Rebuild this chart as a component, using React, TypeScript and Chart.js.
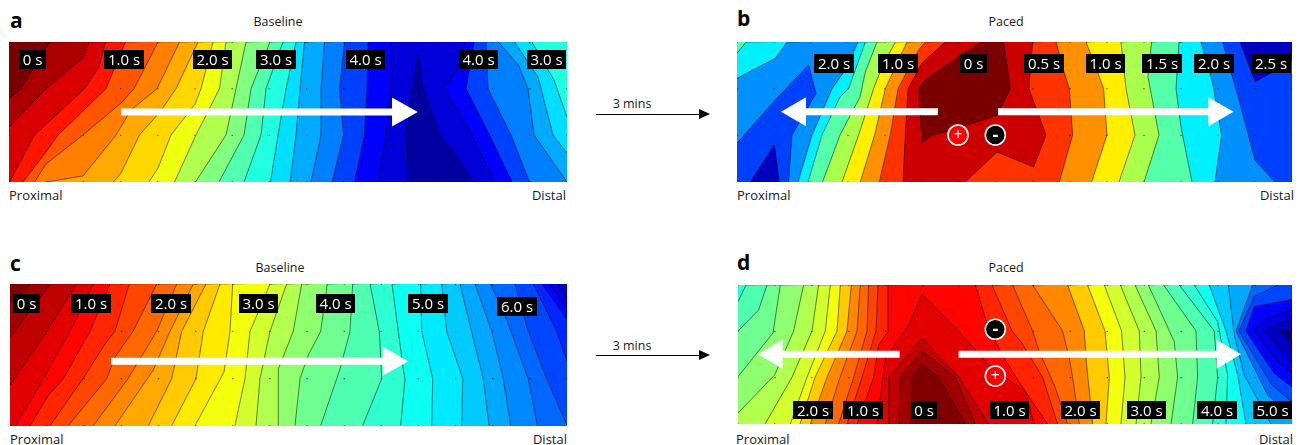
import React, { useEffect, useRef } from "react";
import { Chart, registerables } from "chart.js";

Chart.register(...registerables);

// ---------- colour levels ----------
const aPalette = ["#7a0000","#aa0000","#d80000","#ff1500","#ff5500","#ff8000","#ffaa00","#ffd800","#eeff10","#b0ff50","#80ff80","#50ffb0","#20ffe0","#00dfff","#00aaff","#0080ff","#0040ff","#0000ff","#0000d8","#0000a0"];
const bPalette = ["#7a0000","#cc0000","#ff3300","#ff9000","#ffee00","#aaff4d","#55ffaa","#00f0ff","#0090ff","#0040ff","#0000c0"];
const jet = (i: number) => {
  const t = 1 - i / 31;
  const c = (v: number) => Math.round(255 * Math.max(0, Math.min(1, v)));
  return `rgb(${c(1.5 - Math.abs(4 * t - 3))},${c(1.5 - Math.abs(4 * t - 2))},${c(1.5 - Math.abs(4 * t - 1))})`;
};
const cdPalette = Array.from({ length: 32 }, (_, i) => jet(i));

// ---------- panel a: contours, [x,y,x,y...] along the tissue ----------
const aBase = 0;
const aLevels = [1,2,3,4,5,6,7,8,9,10,11,12,13,14,15,16,17,18,19,17,16,15,14,13,12];
const aClosed = [18];
const aLines = [
  [0,56.7,12,46.7,40.5,0],
  [0,85,37,46.7,74,16,80,0],
  [0.5,140,25.5,93,75.5,46.7,90,25,96.5,0],
  [14,140,37,110,49,93,97,46.7,116.5,0],
  [25.5,140,37,122,74,93,112,61,125,46.7,149,0],
  [37,140,74,134,107,93,122,68,148,46.7,170.5,0],
  [104.5,140,112,131,130.5,93,151,70,167,46.7,189,0],
  [140,140,149,126,162,93,186,62,192,46.7,204,0],
  [165.5,140,187,93,210.5,46.7,217,0],
  [186.5,140,217,93,227,46.7,237,0],
  [210,140,235,93,242,46.7,261,0],
  [235,140,252,93,257,46.7,274,0],
  [261.5,140,269,93,277,46.7,287,0],
  [281,140,287,93,291,46.7,295.5,0],
  [302,140,312,93,312,46.7,315.5,0],
  [323,140,334.5,93,330.5,46.7,335.5,0],
  [345.5,140,355.5,93,358,46.7,359,0],
  [369,140,377,93,382,46.7,382,0],
  [399,146,399,140,396.5,93,403,51,409,13,414,46.7,430.5,93,445.5,111,464,140,464,146],
  [485.5,140,462,91,435.5,46.7,448,28,456,0],
  [503,140,480.5,93,457,46.7,465,0],
  [520.5,140,502,93,479,46.7,477,0],
  [558,140,525,93,519,46.7,510,24,489.5,0],
  [558,111,544,93,529,35,505.5,0],
  [558,75,545,38,523,0],
];

// ---------- panel b ----------
const bBase = 6;
const bLevels = [7,8,9,10,7,6,5,4,3,2,1,0,2,3,4,5,6,7,8,9,10];
const bClosed = [2,3,11,20];
const bLines = [
  [0,11.3,9,0],
  [0,36.3,38.3,16.3,50,0],
  [-6,101.3,0,101.3,36.6,59.7,71.6,23,79,51.3,55,93,51.6,140,51.6,146,-6,146],
  [13.3,146,13.3,140,37.3,103,42.3,140,42.3,146],
  [61,140,75,93,95,46.7,108.3,28,121,0],
  [71,140,85,93,103,55,111.6,46.7,128.3,0],
  [85.6,140,103,93,123,55,128.3,30,140,0],
  [105,140,121.6,93,136.6,46.7,145,25,158.3,0],
  [123.3,140,137.6,93,148.3,46.7,170,0],
  [142.3,140,153.3,93,161,46.7,181.6,8,188.3,0],
  [166,140,168.3,93,171,46.7,185,21,208.3,0],
  [185,101.3,181.6,46.7,188,38,221.6,14.6,245,0,245,-6,266.6,-6,266.6,0,273.3,46.7,260,73,221.6,86,196.6,93],
  [228.3,140,260,110,296.6,125,309,93,292,46.7,295.6,0],
  [322.3,140,335.6,93,332.3,46.7,327,30,319,0],
  [354.6,140,370,93,366.6,46.7,360.6,30,349,0],
  [382,140,398,93,389,46.7,384,0],
  [407,140,422,93,411,35,414.6,0],
  [455,140,444,85,439,46.7,442,0],
  [478,140,484.6,93,475.6,41,464,0],
  [538,140,518,118,502,58,485.6,0],
  [503,-6,503,0,518,39.7,534,31,555,20,562,20,562,-6],
];

// ---------- panel c ----------
const cBase = 0;
const cLevels = [1,2,3,4,5,6,7,8,9,10,11,12,13,14,15,16,17,18,19,20,21,22,23,24,25,26,27,28,29];
const cClosed: number[] = [];
const cLines = [
  [0,19.3,20.7,0],
  [0,53,40.7,0],
  [0,101.3,37,47.3,66,0],
  [6,141.7,33.3,94.7,60,47.3,83.3,0],
  [20,141.7,38.3,111.3,53.3,94.7,80,47.3,100,0],
  [40,141.7,73,94.7,95,60,105,47.3,119.3,0],
  [58.3,141.7,96.7,94.7,105,73,123,47.3,146.7,0],
  [83.3,141.7,118,94.7,146.7,47.3,166.7,0],
  [105,141.7,143.3,86,160,47.3,183.3,0],
  [138.3,141.7,161.7,94.7,171.7,47.3,196,0],
  [161.7,141.7,186,94.7,193.3,47.3,210,0],
  [185,141.7,214,88,220,47.3,222.7,0],
  [225,141.7,235,94.7,240,47.3,260,0],
  [246,141.7,250,94.7,260,47.3,276.7,0],
  [268.3,141.7,268.3,85,283.3,47.3,291.7,0],
  [285,141.7,290,94.7,298.3,71,310.7,47.3,317.3,0],
  [310.7,141.7,330,85,340,47.3,342.7,0],
  [352.7,141.7,371.7,94.7,369.3,47.3,360,0],
  [390.7,141.7,395,94.7,393.3,85,382,0],
  [421.7,141.7,422.7,94.7,411.7,47.3,410.7,0],
  [451.7,141.7,452.7,94.7,436.7,47.3,431.7,0],
  [479,141.7,473.3,94.7,463.3,54.7,450,0],
  [500.7,141.7,493.3,94.7,481.7,47.3,465,0],
  [527.3,141.7,518.3,94.7,496.7,36,480.7,0],
  [557.3,141.7,536.7,94.7,518.3,47.3,505,0],
  [557.3,78,546.7,47.3,523.3,0],
  [557.3,36,532.3,0],
  [557.3,24.7,540,0],
  [557.3,14.7,548.3,0],
];

// ---------- panel d ----------
const dBase = 18;
const dLevels = [17,16,15,14,13,12,10,8,7,6,5,4,3,2,1,0,5,6,7,8,10,12,13,14,15,16,17,18,19,21,22,24,25,27,28,29,31];
const dClosed = [12,13,14,15,33,34,35,36];
const dLines = [
  [0,16.7,8,0],
  [0,46,20.6,25,29,0],
  [0,91.7,35,48,42.3,0],
  [0,128,36.6,90,55.6,46,65.6,0],
  [27,139,54,92.3,74,46,80.6,0],
  [52.3,139,69,92.3,87.3,46,92.3,0],
  [62,139,77,92.3,99,46,102.3,0],
  [72.3,139,89,92.3,109,46,113.3,0],
  [87.3,139,102,92.3,119,46,122.3,0],
  [100.6,139,115.6,92.3,129,46,130.6,0],
  [109,139,124,92.3,138,46,140,0],
  [119,139,135.6,92.3,140.6,60,150.6,46,150,0],
  [139,145,139,139,147.3,73.3,170.6,40,184,9.3,220.6,46,250.6,80,287.3,106.7,296.3,139,296.3,145],
  [150.7,145,150.7,92.3,184,53.3,220.6,91.7,250.6,139,250.6,145],
  [160.6,145,162.3,92.3,184,66,217.3,92.3,237.3,139,237.3,145],
  [173.3,145,173.3,92.3,184,80,200.6,92.3,227.3,139,227.3,145],
  [309.6,139,283,100,266.3,73.3,250.6,43.3,237.3,0],
  [319.6,139,304.6,92.3,283,56.7,274,46,254,0],
  [329.6,139,316.3,100,301.3,66.7,294.6,46,274.6,0],
  [341.3,139,334.6,92.3,331.3,73.3,324.6,46,294.6,0],
  [354.6,139,348,73.3,346.3,46,329.6,0],
  [368,139,371.3,92.3,367,46,349.6,0],
  [383,139,387,92.3,383.6,46,366.3,0],
  [398,139,403,92.3,401.3,46,382.3,0],
  [413,139,421.3,92.3,418,46,397,0],
  [433,139,439.6,92.3,436.3,56.7,410.3,0],
  [454.6,139,459.6,92.3,458,46,425.6,0],
  [474.6,139,479.6,92.3,476.3,46,441.3,0],
  [488,139,489.6,90,479.6,36.7,456.3,0],
  [508,139,499.6,90,488,46,471.3,0],
  [533,139,506.3,90,496.3,50,490.3,0],
  [554,133,529.6,110,498,46,514.6,0],
  [554,116.7,534,100,501,46,516,11.7,539.6,0],
  [560,106.7,536,88,508,46,516.3,21.7,560,13.3],
  [560,93,539.6,76.7,516.3,46,526.3,34,560,23],
  [560,83,526.3,46,560,30],
  [560,66.7,542.3,46,560,43],
];

// ---------- electrode grid ----------
const gridColumns = [0,1,2,3,4,5,6,7,8,9,10,11,12,13,14,15];
const gridRows = [0,1,2,3];

// ---------- arrows: tail, head base, tip, centre line ----------
const aArrows = [[112,383,408.8,70]];
const bArrows = [[201,69,44,69.7],[261,471.3,496.6,69.7]];
const cArrows = [[101,372.7,398.3,77.3]];
const dArrows = [[161.6,44.6,20,69.3],[220.6,478.6,503,69.3]];

// ---------- stimulation electrodes ----------
const bPlus = [221, 93];
const bMinus = [258.3, 93];
const dPlus = [257.3, 91];
const dMinus = [257.3, 44.3];

type Panel = {
  left: number; top: number; w: number; h: number;
  palette: string[]; base: number; levels: number[]; closed: number[]; lines: number[][];
  arrows: number[][]; plus?: number[]; minus?: number[];
};

const panels: Panel[] = [
  { left: 9, top: 42, w: 558, h: 140, palette: aPalette, base: aBase, levels: aLevels, closed: aClosed, lines: aLines, arrows: aArrows },
  { left: 737, top: 42, w: 555, h: 140, palette: bPalette, base: bBase, levels: bLevels, closed: bClosed, lines: bLines, arrows: bArrows, plus: bPlus, minus: bMinus },
  { left: 10, top: 284, w: 557, h: 142, palette: cdPalette, base: cBase, levels: cLevels, closed: cClosed, lines: cLines, arrows: cArrows },
  { left: 738, top: 285, w: 554, h: 139, palette: cdPalette, base: dBase, levels: dLevels, closed: dClosed, lines: dLines, arrows: dArrows, plus: dPlus, minus: dMinus },
];

// ---------- text ----------
const FONT = '"Open Sans", sans-serif';
const timeLabels: [string, number, number, number, number][] = [
  ["0 s",19,50,27,19],["1.0 s",104,50,40,19],["2.0 s",193,50,39,19],["3.0 s",256,50,40,19],["4.0 s",346,50,39,19],["4.0 s",459,50,39,19],["3.0 s",527,50,39,19],
  ["2.0 s",814,54,40,19],["1.0 s",878,54,40,19],["0 s",960,54,27,19],["0.5 s",1024,54,40,19],["1.0 s",1086,54,39,19],["1.5 s",1142,54,40,19],["2.0 s",1194,54,40,19],["2.5 s",1251,54,40,19],
  ["0 s",13,294,27,19],["1.0 s",71,294,40,19],["2.0 s",151,294,40,19],["3.0 s",239,294,39,19],["4.0 s",316,294,39,19],["5.0 s",408,294,40,19],["6.0 s",497,297,40,19],
  ["2.0 s",793,401,40,18],["1.0 s",843,401,40,18],["0 s",911,401,26,18],["1.0 s",990,401,39,18],["2.0 s",1061,401,39,18],["3.0 s",1127,401,39,18],["4.0 s",1197,401,40,18],["5.0 s",1253,401,39,18],
];
const panelLetters: [string, number, number][] = [["a",10,20],["b",737,18],["c",10,263],["d",737,262]];
const titles: [string, number, number][] = [["Baseline",278,22],["Paced",1006,22],["Baseline",280,268],["Paced",1006,268]];
const leftNames: [string, number, number][] = [["Proximal",9,195],["Proximal",737,195],["Proximal",10,439],["Proximal",736,439]];
const rightNames: [string, number, number][] = [["Distal",566,195],["Distal",1294,195],["Distal",567,439],["Distal",1293,439]];
const interval: [string, number, number][] = [["3 mins",632,104],["3 mins",632,346]];
const intervalArrowY = [114, 355];

function outline(line: number[], w: number, h: number, closed: boolean) {
  const pts: { x: number; y: number }[] = [];
  for (let i = 0; i < line.length; i += 2) pts.push({ x: line[i], y: line[i + 1] });
  if (closed) return pts;
  const s = pts[0];
  pts.push({ x: w + 10, y: -10 });
  if (s.x >= w - 5) {
    pts.push({ x: w + 10, y: s.y });
  } else if (s.x <= 1 && s.y < h - 1) {
    pts.push({ x: w + 10, y: h + 10 }, { x: -10, y: h + 10 }, { x: -10, y: s.y });
  } else {
    pts.push({ x: w + 10, y: h + 10 }, { x: s.x, y: h + 10 });
  }
  return pts;
}

function arrowShape(a: number[]) {
  const [tail, base, tip, y] = a;
  const sh = 3.5, hh = 14.5;
  return [
    { x: tail, y: y - sh }, { x: base, y: y - sh }, { x: base, y: y - hh }, { x: tip, y },
    { x: base, y: y + hh }, { x: base, y: y + sh }, { x: tail, y: y + sh },
  ];
}

function ContourPanel({ p }: { p: Panel }) {
  const ref = useRef<HTMLCanvasElement>(null);
  useEffect(() => {
    if (!ref.current) return;
    const stroke = "rgba(0,0,0,0.72)";
    const polys: any[] = [
      {
        data: [{ x: -10, y: -10 }, { x: p.w + 10, y: -10 }, { x: p.w + 10, y: p.h + 10 }, { x: -10, y: p.h + 10 }],
        backgroundColor: p.palette[p.base], borderColor: "transparent", borderWidth: 0, fill: "shape", showLine: true, pointRadius: 0,
      },
      ...p.lines.map((line, i) => ({
        data: outline(line, p.w, p.h, p.closed.includes(i)),
        backgroundColor: p.palette[p.levels[i]], borderColor: stroke, borderWidth: 0.7, fill: "shape", showLine: true, pointRadius: 0,
      })),
    ];
    const dots: { x: number; y: number }[] = [];
    for (const c of gridColumns) for (const r of gridRows) dots.push({ x: (c * p.w) / 15, y: (r * p.h) / 3 });
    polys.push({ data: dots, showLine: false, fill: false, pointRadius: 0.7, pointBorderWidth: 0, pointBackgroundColor: "rgba(0,0,0,0.75)" });
    for (const a of p.arrows) {
      polys.push({ data: arrowShape(a), backgroundColor: "#ffffff", borderColor: "#ffffff", borderWidth: 0, fill: "shape", showLine: true, pointRadius: 0 });
    }
    if (p.plus) polys.push({ data: [{ x: p.plus[0], y: p.plus[1] }], showLine: false, fill: false, pointRadius: 10, pointBackgroundColor: "#ff0000", pointBorderColor: "#ffffff", pointBorderWidth: 1.6 });
    if (p.minus) polys.push({ data: [{ x: p.minus[0], y: p.minus[1] }], showLine: false, fill: false, pointRadius: 10, pointBackgroundColor: "#000000", pointBorderColor: "#ffffff", pointBorderWidth: 1.6 });

    const chart = new Chart(ref.current, {
      type: "scatter",
      data: { datasets: polys.reverse() },
      options: {
        responsive: false,
        animation: false,
        events: [],
        layout: { padding: 0, autoPadding: false },
        elements: { line: { tension: 0 } },
        plugins: { legend: { display: false }, tooltip: { enabled: false } },
        scales: {
          x: { type: "linear", display: false, min: 0, max: p.w },
          y: { type: "linear", display: false, min: 0, max: p.h, reverse: true },
        },
      },
    } as any);
    return () => chart.destroy();
  }, [p]);
  return <canvas ref={ref} width={p.w} height={p.h} style={{ position: "absolute", left: p.left, top: p.top, width: p.w, height: p.h }} />;
}

const textBase: React.CSSProperties = { position: "absolute", whiteSpace: "nowrap", lineHeight: 1, fontFamily: FONT, color: "#1a1a1a" };

export default function App() {
  return (
    <div style={{ position: "absolute", left: 0, top: 0, width: 1304, height: 445, overflow: "hidden", background: "#fff" }}>
      {panels.map((p, i) => <ContourPanel key={i} p={p} />)}
      {timeLabels.map(([t, x, y, w, h], i) => (
        <div key={i} style={{ ...textBase, left: x, top: y, width: w, height: h, lineHeight: `${h}px`, background: "#000", color: "#fff", fontSize: 15, textAlign: "center" }}>{t}</div>
      ))}
      {panelLetters.map(([t, x, y], i) => (
        <div key={i} style={{ ...textBase, left: x, top: y, transform: "translateY(-50%)", fontSize: 21, fontWeight: 700, color: "#000" }}>{t}</div>
      ))}
      {titles.map(([t, x, y], i) => (
        <div key={i} style={{ ...textBase, left: x, top: y, transform: "translate(-50%,-50%)", fontSize: 12.5 }}>{t}</div>
      ))}
      {leftNames.map(([t, x, y], i) => (
        <div key={i} style={{ ...textBase, left: x, top: y, transform: "translateY(-50%)", fontSize: 13 }}>{t}</div>
      ))}
      {rightNames.map(([t, x, y], i) => (
        <div key={i} style={{ ...textBase, right: 1304 - x, top: y, transform: "translateY(-50%)", fontSize: 13 }}>{t}</div>
      ))}
      {interval.map(([t, x, y], i) => (
        <div key={i} style={{ ...textBase, left: x, top: y, transform: "translate(-50%,-50%)", fontSize: 12.5 }}>{t}</div>
      ))}
      {intervalArrowY.map((y, i) => (
        <React.Fragment key={i}>
          <div style={{ position: "absolute", left: 596, top: y - 0.5, width: 106, height: 1, background: "#000" }} />
          <div style={{ position: "absolute", left: 699, top: y - 5, width: 0, height: 0, borderTop: "5px solid transparent", borderBottom: "5px solid transparent", borderLeft: "11px solid #000" }} />
        </React.Fragment>
      ))}
      {panels.map((p, i) => (
        <React.Fragment key={i}>
          {p.plus && <div style={{ ...textBase, left: p.left + p.plus[0], top: p.top + p.plus[1] - 1, transform: "translate(-50%,-50%)", color: "#fff", fontSize: 16 }}>+</div>}
          {p.minus && <div style={{ ...textBase, left: p.left + p.minus[0], top: p.top + p.minus[1] - 1, transform: "translate(-50%,-50%)", color: "#fff", fontSize: 18, fontWeight: 700 }}>-</div>}
        </React.Fragment>
      ))}
    </div>
  );
}
